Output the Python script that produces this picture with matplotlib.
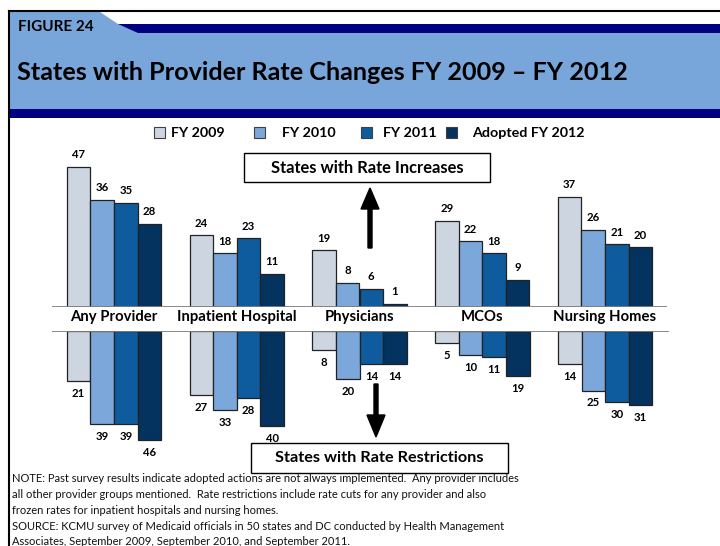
import matplotlib
matplotlib.use("Agg")
import matplotlib.pyplot as plt
import numpy as np
from matplotlib.patches import Rectangle, Polygon

plt.rcParams["font.family"] = ["Lato", "DejaVu Sans"]

# data
categories = ["Any Provider", "Inpatient Hospital", "Physicians", "MCOs", "Nursing Homes"]
series = ["FY 2009", "FY 2010", "FY 2011", "Adopted FY 2012"]
increases = {
    "FY 2009": [47, 24, 19, 29, 37],
    "FY 2010": [36, 18, 8, 22, 26],
    "FY 2011": [35, 23, 6, 18, 21],
    "Adopted FY 2012": [28, 11, 1, 9, 20],
}
restrictions = {
    "FY 2009": [21, 27, 8, 5, 14],
    "FY 2010": [39, 33, 20, 10, 25],
    "FY 2011": [39, 28, 14, 11, 30],
    "Adopted FY 2012": [46, 40, 14, 19, 31],
}
colors = ["#CDD6E0", "#7BA7DB", "#0E5C9E", "#04335F"]

note_lines = [
    "NOTE: Past survey results indicate adopted actions are not always implemented.  Any provider includes",
    "all other provider groups mentioned.  Rate restrictions include rate cuts for any provider and also",
    "frozen rates for inpatient hospitals and nursing homes.",
]
source_lines = [
    "SOURCE: KCMU survey of Medicaid officials in 50 states and DC conducted by Health Management",
    "Associates, September 2009, September 2010, and September 2011.",
]

W, H = 720, 546
fig = plt.figure(figsize=(W / 100, H / 100), dpi=100)


def box(x0, y0, x1, y1):
    # pixel box (top-left origin) -> figure fraction rect
    return [x0 / W, 1 - y1 / H, (x1 - x0) / W, (y1 - y0) / H]


# background / header drawn in pixel space
bg = fig.add_axes([0, 0, 1, 1], zorder=0)
bg.set_xlim(0, W)
bg.set_ylim(H, 0)
bg.axis("off")

bg.add_patch(Rectangle((9, 11), W, 98, facecolor="#79A6DA", edgecolor="none"))
bg.add_patch(Polygon([(100, 12), (W, 12), (W, 24), (118, 24)], closed=True,
                     facecolor="white", edgecolor="none"))
bg.add_patch(Polygon([(118, 24), (W, 24), (W, 33), (138, 33)], closed=True,
                     facecolor="#000080", edgecolor="none"))
bg.add_patch(Rectangle((9, 109), W, 9, facecolor="#000080", edgecolor="none"))
bg.plot([9, W], [11, 11], color="black", lw=1.5)
bg.plot([9, 9], [11, H], color="black", lw=1.5)

bg.text(18, 27, "FIGURE 24", fontsize=11, fontweight="bold", va="center", ha="left")
bg.text(17, 73, "States with Provider Rate Changes FY 2009 \u2013 FY 2012",
        fontsize=18.1, fontweight="bold", va="center", ha="left")

# legend
leg_sq = [154, 254, 361, 446]
leg_tx = [171, 282, 383, 472]
for name, c, sx, tx in zip(series, colors, leg_sq, leg_tx):
    bg.add_patch(Rectangle((sx, 127), 11, 11, facecolor=c, edgecolor="#404040", lw=0.8))
    bg.text(tx, 133, name, fontsize=10.3, fontweight="bold", va="center", ha="left")

# callout boxes and arrows
bg.add_patch(Rectangle((244, 153), 246, 29, facecolor="white", edgecolor="black", lw=1))
bg.text(367, 168, "States with Rate Increases", fontsize=11.9, fontweight="bold",
        ha="center", va="center")
bg.arrow(370, 248, 0, -60, width=4, head_width=18, head_length=21,
         length_includes_head=True, color="black")

bg.add_patch(Rectangle((251, 443), 257, 30, facecolor="white", edgecolor="black", lw=1))
bg.text(379, 458, "States with Rate Restrictions", fontsize=11.7, fontweight="bold",
        ha="center", va="center")
bg.arrow(376, 384, 0, 53, width=4, head_width=18, head_length=22,
         length_includes_head=True, color="black")

# notes
for i, line in enumerate(note_lines):
    bg.text(12, 479 + 15.5 * i, line, fontsize=8.0, va="center", ha="left", color="#111111")
for i, line in enumerate(source_lines):
    bg.text(12, 527 + 14.5 * i, line, fontsize=8.0, va="center", ha="left", color="#111111")

x = np.arange(len(categories))
bw = 0.192
offsets = (np.arange(len(series)) - 1.5) * bw

# increases panel
ax_top = fig.add_axes(box(52, 140, 667, 307), zorder=2)
ax_top.patch.set_alpha(0)
ax_top.set_xlim(-0.505, 4.505)
ax_top.set_ylim(0, (307 - 140) / 2.98)
for name, c, off in zip(series, colors, offsets):
    vals = increases[name]
    bars = ax_top.bar(x + off, vals, bw, color=c, edgecolor="#222222", lw=0.9)
    for b, v in zip(bars, vals):
        ax_top.annotate(str(v), (b.get_x() + b.get_width() / 2, v), xytext=(0, 8.8),
                        textcoords="offset points", ha="center", va="center",
                        fontsize=8.2, fontweight="bold")
ax_top.axhline(0, color="#7f7f7f", lw=1.3)
ax_top.axis("off")

# restrictions panel
ax_bot = fig.add_axes(box(52, 331, 669, 475), zorder=2)
ax_bot.patch.set_alpha(0)
ax_bot.set_xlim(-0.505, 4.52)
ax_bot.set_ylim((475 - 331) / 2.38, 0)
for name, c, off in zip(series, colors, offsets):
    vals = restrictions[name]
    bars = ax_bot.bar(x + off, vals, bw, color=c, edgecolor="#222222", lw=0.9)
    for b, v in zip(bars, vals):
        ax_bot.annotate(str(v), (b.get_x() + b.get_width() / 2, v), xytext=(0, -9),
                        textcoords="offset points", ha="center", va="center",
                        fontsize=8.2, fontweight="bold")
ax_bot.axhline(0, color="#7f7f7f", lw=1.3)
ax_bot.axis("off")

# category labels between the panels
for xi, cat in zip(x, categories):
    ax_top.annotate(cat, (xi, 0), xytext=(0, -7.2), textcoords="offset points",
                    ha="center", va="center", fontsize=10.7, fontweight="bold",
                    annotation_clip=False)

fig.savefig("out.png", dpi=100)
